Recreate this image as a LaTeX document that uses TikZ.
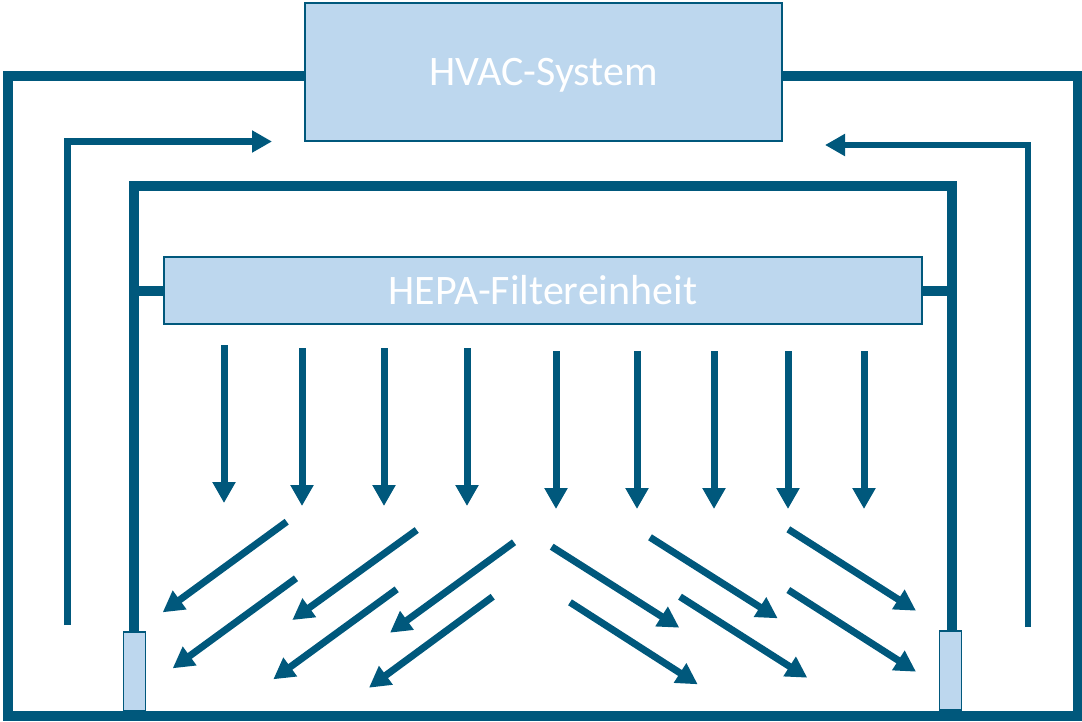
\documentclass[tikz,border=0pt]{standalone}
\usepackage{fontspec}
\setmainfont{Carlito}
\usetikzlibrary{arrows.meta}
\definecolor{dk}{RGB}{0,88,124}
\definecolor{lb}{RGB}{189,215,238}
\tikzset{
  frame/.style={draw=dk, line width=10pt, line join=miter},
  box/.style={draw=dk, line width=2pt, fill=lb, inner sep=0pt, text=white, font=\fontsize{42}{50}\selectfont, text height=27pt, text depth=0pt},
  post/.style={draw=dk, line width=1.5pt, fill=lb, inner sep=0pt, minimum width=22pt, minimum height=79pt},
  side/.style={draw=dk, line width=6.5pt, line join=miter, -{Triangle[width=21pt,length=20pt]}},
  flow/.style={draw=dk, line width=7pt, -{Triangle[width=22pt,length=21pt]}}
}
\begin{document}
\begin{tikzpicture}[x=1pt,y=-1pt]
\useasboundingbox (0,0) rectangle (1082,721);
% nodes
\node[box, minimum width=477pt, minimum height=138pt] (hvac) at (543.5,71.5) {HVAC-System};
\node[box, minimum width=758pt, minimum height=67pt] (hepa) at (543,290.5) {HEPA-Filtereinheit};
\node[post] (pl) at (134.5,671.5) {};
\node[post] (pr) at (950.5,670.5) {};
% outer frame
\coordinate (ol) at (8,76);
\coordinate (or) at (1077.5,76);
\coordinate (ob) at (8,716);
\coordinate (obr) at (1077.5,716);
\draw[frame] (hvac.west |- ol) -- (ol) -- (ob) -- (obr) -- (or) -- (hvac.east |- or);
% inner frame
\coordinate (il) at (134,186);
\coordinate (ir) at (952,186);
\draw[frame] (pl.north -| il) -- (il) -- (ir) -- (pr.north -| ir);
\draw[frame] (il |- hepa.west) -- (hepa.west);
\draw[frame] (ir |- hepa.east) -- (hepa.east);
% redraw boxes on top
\node[box, minimum width=477pt, minimum height=138pt] at (hvac) {HVAC-System};
\node[post] at (pl) {};
\node[post] at (pr) {};
% return air arrows
\coordinate (la) at (67.5,625);
\coordinate (lt) at (272,141.5);
\coordinate (ra) at (1028,627);
\coordinate (rt) at (825,145);
\draw[side] (la) |- (lt);
\draw[side] (ra) |- (rt);
% downward flow
\foreach \x/\a/\b [count=\i] in {224/345/503,302/348/506,384/348/506,467/348/506,556/351/509,637/351/509,714/351/509,788/351/509,864/351/509}{
  \coordinate (d\i s) at (\x,\a);
  \coordinate (d\i e) at (\x,\b);
  \draw[flow] (d\i s) -- (d\i e);
}
% diagonal flow to the left
\foreach \sx/\sy/\ex/\ey [count=\i] in {286.7/521.7/162.7/612.3, 296/578.3/172.7/668.3, 416.7/530/292.3/620, 396.7/589.3/273.3/679.3, 514/542.3/390/632.7, 492.7/596.7/369/687.7}{
  \coordinate (l\i s) at (\sx,\sy);
  \coordinate (l\i e) at (\ex,\ey);
  \draw[flow] (l\i s) -- (l\i e);
}
% diagonal flow to the right
\foreach \sx/\sy/\ex/\ey [count=\i] in {551.7/546.7/679.3/627.7, 570/602.3/697.7/684.3, 650/537.3/777.7/618.3, 680/596.7/807.3/677.7, 788.3/529.3/916/610.7, 788.3/590/916/671.7}{
  \coordinate (r\i s) at (\sx,\sy);
  \coordinate (r\i e) at (\ex,\ey);
  \draw[flow] (r\i s) -- (r\i e);
}
\end{tikzpicture}
\end{document}
